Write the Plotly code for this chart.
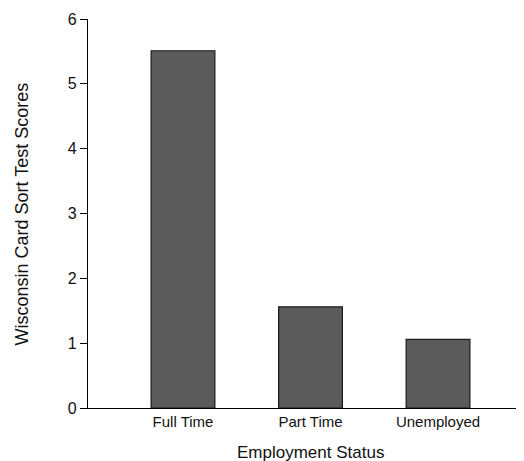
import plotly.graph_objects as go

categories = ["Full Time", "Part Time", "Unemployed"]
scores = [5.51, 1.56, 1.06]
y_ticks = [0, 1, 2, 3, 4, 5, 6]

FONT = "Liberation Sans, Arial, Helvetica, sans-serif"

fig = go.Figure()
fig.add_trace(go.Bar(
    x=list(range(len(categories))),
    y=scores,
    width=0.5,
    marker=dict(color="#5b5b5b", line=dict(color="#1a1a1a", width=1.2)),
))

fig.update_layout(
    width=540, height=461,
    margin=dict(l=80, r=0, t=11, b=61),
    paper_bgcolor="white", plot_bgcolor="white",
    showlegend=False,
    font=dict(family=FONT, color="#111111"),
    xaxis=dict(
        range=[-0.745, 2.8625],
        tickmode="array",
        tickvals=list(range(len(categories))),
        ticktext=categories,
        ticks="",
        showline=True, linecolor="black", linewidth=1.2,
        showgrid=False, zeroline=False,
        tickfont=dict(size=15, family=FONT),
    ),
    yaxis=dict(
        range=[0, 6],
        tickvals=y_ticks,
        ticks="outside", ticklen=7, tickwidth=1.2, tickcolor="black",
        showline=True, linecolor="black", linewidth=1.2,
        showgrid=False, zeroline=False,
        tickfont=dict(size=16, family=FONT),
    ),
    annotations=[
        dict(text="Employment Status", xref="x", yref="paper",
             x=1, y=-0.085, xanchor="center", yanchor="top",
             showarrow=False, font=dict(size=17, family=FONT)),
        dict(text="Wisconsin Card Sort Test Scores", xref="paper", yref="paper",
             x=-0.1435, y=0.5, xanchor="center", yanchor="middle",
             textangle=-90, showarrow=False, font=dict(size=18, family=FONT)),
    ],
)

fig.write_html("out.html")
